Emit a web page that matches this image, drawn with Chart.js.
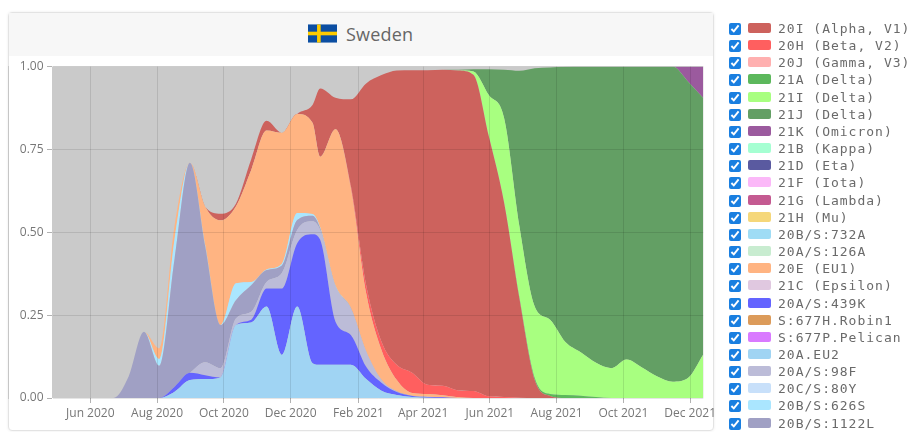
<!DOCTYPE html>
<html><head><meta charset="utf-8">
<script src="https://cdn.jsdelivr.net/npm/chart.js@4"></script>
<style>
html,body{margin:0;padding:0;background:#fff;width:913px;height:432px;overflow:hidden}
#page{position:absolute;left:0;top:0;width:913px;height:432px;filter:blur(.55px)}
#card{position:absolute;left:8px;top:12px;width:706px;height:419px;border:1px solid #e3e3e3;border-radius:4px;box-sizing:border-box;background:#fff;box-shadow:0 0 3px rgba(0,0,0,.08)}
#head{position:absolute;left:0;top:0;right:0;height:43px;background:#f7f7f7;font:18px "Open Sans",sans-serif;color:#666}
#head svg{position:absolute;left:299px;top:11px}
#head span{position:absolute;left:337px;top:9px;letter-spacing:.2px}
#wrap{position:absolute;left:8px;top:55px;width:713px;height:376px}
#legend{position:absolute;left:729px;top:20px;font:13px "DejaVu Sans Mono",monospace;color:#6a6a6a;letter-spacing:1px}
.row{position:relative;height:17.17px;line-height:17px;white-space:pre}
.row input{position:absolute;left:0;top:3px;width:12px;height:12px;margin:0;accent-color:#1a7fe0}
.row i{position:absolute;left:19px;top:3px;width:23px;height:10px;border-radius:2px}
.row b{position:absolute;left:49px;top:0;font-weight:normal}
</style></head><body>
<div id="page">
<div id="card"><div id="head">
<svg width="29" height="19" viewBox="0 0 16 10"><rect width="16" height="10" fill="#0b4ea2"/><rect x="5" width="2" height="10" fill="#fecb00"/><rect y="4" width="16" height="2" fill="#fecb00"/></svg>
<span>Sweden</span></div></div>
<div id="wrap"><canvas id="c" width="713" height="376"></canvas></div>
<div id="legend"></div>
</div>
<script>
const dates=['2020-04-27','2020-05-11','2020-05-25','2020-06-08','2020-06-22','2020-07-06','2020-07-20','2020-08-03','2020-08-17','2020-08-31','2020-09-14','2020-09-28','2020-10-12','2020-10-26','2020-11-09','2020-11-23','2020-12-07','2020-12-21',
'2020-12-28','2021-01-11','2021-01-25','2021-02-08','2021-02-22','2021-03-08','2021-03-22','2021-04-05','2021-04-19','2021-05-03','2021-05-17','2021-05-31','2021-06-14','2021-06-28','2021-07-12','2021-07-26','2021-08-09','2021-08-23','2021-09-06','2021-09-20','2021-10-04','2021-10-18','2021-11-01','2021-11-15','2021-11-29','2021-12-13'];
const tickDates=['2020-06-01','2020-08-01','2020-10-01','2020-12-01','2021-02-01','2021-04-01','2021-06-01','2021-08-01','2021-10-01','2021-12-01'];
const tickLabels=['Jun 2020','Aug 2020','Oct 2020','Dec 2020','Feb 2021','Apr 2021','Jun 2021','Aug 2021','Oct 2021','Dec 2021'];
const yTicks=[0,0.25,0.5,0.75,1];

const v20AEU2=[0,0,0,0,0,0,0,0,.019,.054,.057,.062,.22,.228,.276,.13,.276,.105,.10,.10,.10,.057,.022,.009,.003,.001,0,0,0,0,0,0,0,0,0,0,0,0,0,0,0,0,0,0];
const v439K=[0,0,0,0,0,0,0,0,.015,.022,.012,0,0,.008,.054,.20,.191,.389,.377,.13,.09,.037,.024,.009,.003,.002,.002,0,0,0,0,0,0,0,0,0,0,0,0,0,0,0,0,0];
const v98F=[0,0,0,0,0,0,0,0,0,0,.039,.028,.02,.024,.02,.047,.04,.039,.03,.106,.08,.046,.008,.001,0,.001,0,0,0,0,0,0,0,0,0,0,0,0,0,0,0,0,0,0];
const v1122L=[0,0,0,0,0,.065,.20,.097,.386,.634,.348,.13,.055,.08,.036,.023,.03,.017,.005,.002,.002,.001,.001,.001,.001,0,0,0,0,0,0,0,0,0,0,0,0,0,0,0,0,0,0,0];
const v626S=[0,0,0,0,0,0,0,.021,.06,0,.004,0,.051,.01,.002,.005,.021,.005,.003,.001,0,0,0,0,0,0,0,0,0,0,0,0,0,0,0,0,0,0,0,0,0,0,0,0];
const v20E=[0,0,0,0,0,0,0,.032,.04,0,.117,.316,.232,.338,.419,.395,.299,.275,.213,.472,.361,.175,.09,.034,.008,.008,.006,.002,0,0,0,0,0,0,0,0,0,0,0,0,0,0,0,0];
const v20H=[0,0,0,0,0,0,0,0,0,0,0,0,0,0,0,0,0,0,0,0,.007,.025,.025,.046,.061,.028,.029,.021,.021,.005,.003,.001,0,0,0,0,0,0,0,0,0,0,0,0];
const v20I=[0,0,0,0,0,0,0,0,0,0,0,.02,.008,.032,.029,0,0,.054,.206,.095,.261,.608,.804,.888,.913,.949,.953,.965,.954,.785,.587,.299,.054,.006,0,0,0,0,0,0,0,0,0,0];
const v21A=[0,0,0,0,0,0,0,0,0,0,0,0,0,0,0,0,0,0,0,0,0,0,0,0,0,0,0,0,0,0,0,.003,.006,.006,.009,.007,.003,0,0,0,0,0,0,0];
const v21I=[0,0,0,0,0,0,0,0,0,0,0,0,0,0,0,0,0,0,0,0,0,0,0,0,0,0,0,.001,.01,.124,.255,.215,.216,.224,.16,.131,.103,.09,.116,.092,.065,.049,.06,.131];
const v21J=[0,0,0,0,0,0,0,0,0,0,0,0,0,0,0,0,0,0,0,0,0,0,0,0,0,0,0,.001,.007,.078,.145,.469,.719,.761,.83,.862,.894,.91,.884,.908,.935,.951,.895,.774];
const v21K=[0,0,0,0,0,0,0,0,0,0,0,0,0,0,0,0,0,0,0,0,0,0,0,0,0,0,0,0,0,0,0,0,0,0,0,0,0,0,0,0,0,0,.045,.095];

const legendNames=['20I (Alpha, V1)','20H (Beta, V2)','20J (Gamma, V3)','21A (Delta)','21I (Delta)','21J (Delta)','21K (Omicron)','21B (Kappa)','21D (Eta)','21F (Iota)','21G (Lambda)','21H (Mu)','20B/S:732A','20A/S:126A','20E (EU1)','21C (Epsilon)','20A/S:439K','S:677H.Robin1','S:677P.Pelican','20A.EU2','20A/S:98F','20C/S:80Y','20B/S:626S','20B/S:1122L'];
const legendColors=['#cd625d','#ff5f5f','#ffb0b0','#5cb85c','#a8ff80','#639f64','#9b5a9e','#a5ffd2','#5a5aa0','#fbb8f8','#c45a91','#f5d77a','#9fdcf5','#c8ecd0','#ffb482','#e0c8e0','#6464ff','#dc9b5a','#d97aff','#a0d4f3','#bcbcd8','#c8e0fa','#aae6ff','#a0a0c4'];
const stackOrder=[['20A.EU2',v20AEU2],['20A/S:439K',v439K],['20A/S:98F',v98F],['20B/S:1122L',v1122L],['20B/S:626S',v626S],['20E (EU1)',v20E],['20H (Beta, V2)',v20H],['20I (Alpha, V1)',v20I],['21A (Delta)',v21A],['21I (Delta)',v21I],['21J (Delta)',v21J],['21K (Omicron)',v21K]];

const dayOf=s=>Math.round((Date.parse(s)-Date.parse(dates[0]))/864e5);
const days=dates.map(dayOf), tickDays=tickDates.map(dayOf);
const lg=document.getElementById('legend');
legendNames.forEach((n,k)=>{const r=document.createElement('div');r.className='row';
 r.innerHTML='<input type="checkbox" checked><i style="background:'+legendColors[k]+'"></i><b></b>';
 r.querySelector('b').textContent=n;lg.appendChild(r);});

const datasets=stackOrder.map(([name,vals],k)=>{const col=legendColors[legendNames.indexOf(name)];
 return {label:name,data:vals.map((y,n)=>({x:days[n],y})),backgroundColor:col,borderColor:col,borderWidth:0,pointRadius:0,fill:k===0?'origin':'-1',cubicInterpolationMode:'monotone'};});

new Chart(document.getElementById('c'),{type:'line',data:{datasets},
 plugins:[{id:'plotBg',beforeDraw(ch){const a=ch.chartArea,g=ch.ctx;g.save();g.fillStyle='#cacaca';g.fillRect(a.left,a.top,a.right-a.left,a.bottom-a.top);g.restore();}}],
 options:{responsive:false,animation:false,
 layout:{padding:{left:0,right:17.7,top:11.5,bottom:0}},
 plugins:{legend:{display:false},tooltip:{enabled:false}},
 elements:{line:{borderWidth:0}},
 scales:{
  x:{type:'linear',min:0,max:days[days.length-1],
   afterBuildTicks(s){s.ticks=tickDays.map(value=>({value}));},
   afterFit(s){s.height=33;},
   ticks:{autoSkip:false,maxRotation:0,color:'#777',font:{family:'"Open Sans",sans-serif',size:12},padding:3,callback:v=>tickLabels[tickDays.indexOf(v)]},
   grid:{color:'rgba(0,0,0,.1)',z:1,tickLength:5,tickColor:'rgba(0,0,0,.3)'},border:{display:false}},
  y:{stacked:true,min:0,max:1,
   afterBuildTicks(s){s.ticks=yTicks.map(value=>({value}));},
   afterFit(s){s.width=44;},
   ticks:{color:'#777',font:{family:'"Open Sans",sans-serif',size:12},padding:3.5,callback:v=>v.toFixed(2)},
   grid:{color:'rgba(0,0,0,.1)',z:1,tickLength:5,tickColor:'rgba(0,0,0,.3)'},border:{color:'rgba(0,0,0,.25)'}}
 }}});
</script>
</body></html>
